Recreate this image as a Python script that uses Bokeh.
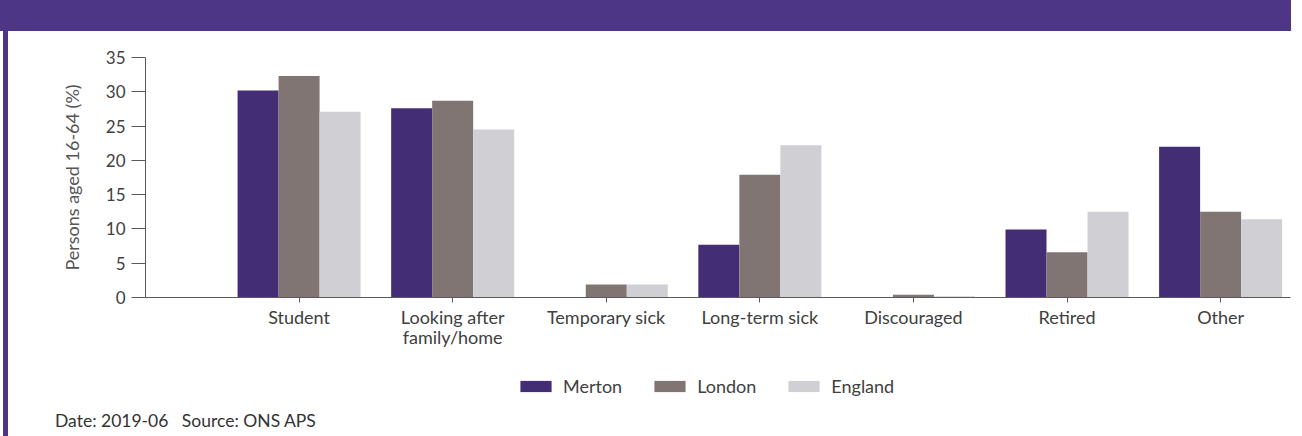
from bokeh.plotting import figure
from bokeh.models import (Range1d, FixedTicker, Legend, LegendItem, Div,
                          ColumnDataSource)
from bokeh.layouts import column, row
from bokeh.transform import dodge
from bokeh.embed import file_html
from bokeh.resources import INLINE

categories = ["Student", "Looking after\nfamily/home", "Temporary sick",
              "Long-term sick", "Discouraged", "Retired", "Other"]
series_names = ["Merton", "London", "England"]
merton = [30.2, 27.6, 0.0, 7.7, 0.0, 9.9, 22.0]
london = [32.3, 28.7, 1.9, 17.9, 0.4, 6.6, 12.5]
england = [27.1, 24.5, 1.9, 22.2, 0.2, 12.5, 11.4]
y_ticks = [0, 5, 10, 15, 20, 25, 30, 35]
colors = ["#432D74", "#817573", "#D0CFD4"]
y_label = "Persons aged 16-64 (%)"
footer = "Date: 2019-06&nbsp;&nbsp;&nbsp;Source: ONS APS"

FONT = "Lato"
TXT = "#404040"
AXC = "#5a5a5a"
PURPLE = "#4E3687"

positions = list(range(1, len(categories) + 1))
keys = ["merton", "london", "england"]
src = ColumnDataSource(dict(x=positions, merton=merton, london=london, england=england))

# ---- main chart
p = figure(width=1294, height=334, x_range=Range1d(0, 7.455), y_range=Range1d(0, 35),
           output_backend="svg", toolbar_location=None,
           min_border_left=137, min_border_right=12, min_border_top=26, min_border_bottom=68)
p.outline_line_color = None
p.grid.visible = False

bar_w = 0.267
for key, off, col in zip(keys, [-bar_w, 0, bar_w], colors):
    p.vbar(x=dodge("x", off, range=p.x_range), top=key, width=bar_w, source=src,
           fill_color=col, line_color=None)

xa = p.xaxis[0]
xa.ticker = FixedTicker(ticks=positions)
xa.major_label_overrides = {pos: cat for pos, cat in zip(positions, categories)}
xa.major_tick_out = 5
xa.major_tick_in = 0
xa.minor_tick_out = 0
xa.minor_tick_in = 0
xa.axis_line_color = AXC
xa.major_tick_line_color = AXC
xa.major_label_text_font = FONT
xa.major_label_text_font_size = "18px"
xa.major_label_text_color = TXT
xa.major_label_text_line_height = 0.93
xa.major_label_standoff = 3

ya = p.yaxis[0]
ya.ticker = FixedTicker(ticks=y_ticks)
ya.major_tick_out = 14
ya.major_tick_in = 0
ya.minor_tick_out = 0
ya.minor_tick_in = 0
ya.axis_line_color = AXC
ya.major_tick_line_color = AXC
ya.major_label_text_font = FONT
ya.major_label_text_font_size = "17px"
ya.major_label_text_color = TXT
ya.major_label_standoff = 6
ya.axis_label = y_label
ya.axis_label_text_font = FONT
ya.axis_label_text_font_size = "18px"
ya.axis_label_text_font_style = "normal"
ya.axis_label_text_color = "#555555"
ya.axis_label_standoff = 20

# ---- legend strip (own small figure; hidden copies of the bars give the swatches)
lg = figure(width=1294, height=45, x_range=Range1d(0, 1), y_range=Range1d(0, 1),
            x_axis_type=None, y_axis_type=None, output_backend="svg",
            toolbar_location=None, min_border=0)
lg.outline_line_color = None
lg.grid.visible = False
swatches = [lg.vbar(x="x", top=key, width=bar_w, source=src, fill_color=col,
                    line_color=None, visible=False) for key, col in zip(keys, colors)]
legend = Legend(items=[LegendItem(label=n, renderers=[r]) for n, r in zip(series_names, swatches)],
                orientation="horizontal", location=(371, 13), padding=0, margin=0,
                spacing=28, glyph_width=39, glyph_height=14, label_height=14,
                label_standoff=8, label_text_font=FONT, label_text_font_size="18px",
                label_text_color=TXT, border_line_color=None, background_fill_alpha=0)
lg.add_layout(legend, "center")

header = Div(width=1291, height=31, margin=0, styles={"background-color": PURPLE})
spacer = Div(width=3, height=405, margin=0)
leftbar = Div(width=5, height=405, margin=0, styles={"background-color": PURPLE})
foot = Div(text=footer, width=1294, height=26, margin=0,
           styles={"font-family": "Lato", "font-size": "17.5px", "color": "#333333",
                   "padding-left": "47px", "line-height": "normal"})
layout = column(header, row(spacer, leftbar, column(p, lg, foot, margin=0, spacing=0),
                            margin=0, spacing=0), margin=0, spacing=0)

open("out.html", "w").write(file_html(layout, INLINE))
